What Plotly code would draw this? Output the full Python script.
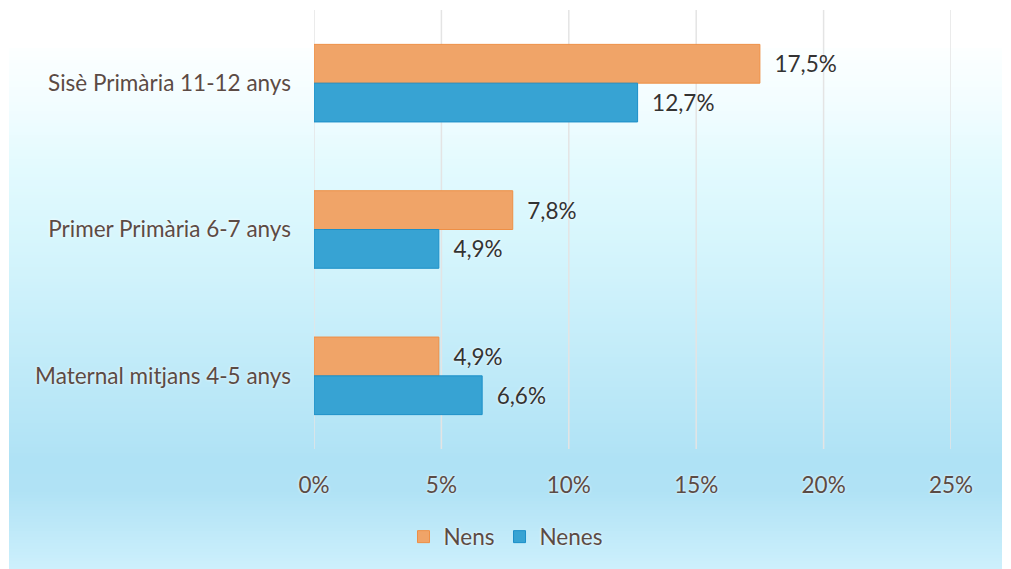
import plotly.graph_objects as go

categories = ["Sisè Primària 11-12 anys", "Primer Primària 6-7 anys", "Maternal mitjans 4-5 anys"]
nens = [0.175, 0.078, 0.049]
nenes = [0.127, 0.049, 0.066]
tick_vals = [0, 0.05, 0.10, 0.15, 0.20, 0.25]

W, H = 1011, 569
ML, MR, MT, MB = 314, 60, 10, 120
PW, PH = W - ML - MR, H - MT - MB

def px_x(p):
    return (p - ML) / PW

def px_y(p):
    return (H - MB - p) / PH

AXIS_COL = "#5B4B45"
LABEL_COL = "#333333"
FONT = "Lato"
FS = 22.5
SHADOW = "0px 0px 3px white"

fig = go.Figure()
fig.add_trace(go.Bar(
    y=categories, x=nens, name="Nens", orientation="h",
    marker=dict(color="#F0A468", line=dict(color="#EE8F45", width=1)),
    texttemplate="\u00a0\u00a0%{x:.1%}", textposition="outside",
    textfont=dict(family=FONT, size=FS, color=LABEL_COL, shadow=SHADOW),
    cliponaxis=False,
))
fig.add_trace(go.Bar(
    y=categories, x=nenes, name="Nenes", orientation="h",
    marker=dict(color="#37A3D3", line=dict(color="#1C8FC8", width=1)),
    texttemplate="\u00a0\u00a0%{x:.1%}", textposition="outside",
    textfont=dict(family=FONT, size=FS, color=LABEL_COL, shadow=SHADOW),
    cliponaxis=False,
))

# background gradient (styling)
stops = [(48, (252, 255, 255)), (100, (243, 253, 255)), (170, (226, 250, 254)),
         (250, (213, 245, 252)), (350, (195, 236, 249)), (460, (175, 226, 245)),
         (490, (176, 226, 245)), (569, (205, 240, 252))]
shapes = []
step = 3
y = 48
while y < 569:
    y2 = min(y + step, 569)
    ym = (y + y2) / 2
    for i in range(len(stops) - 1):
        a, ca = stops[i]
        b, cb = stops[i + 1]
        if a <= ym <= b:
            t = (ym - a) / (b - a)
            c = tuple(round(ca[k] + (cb[k] - ca[k]) * t) for k in range(3))
            break
    shapes.append(dict(type="rect", xref="paper", yref="paper",
                       x0=px_x(9), x1=px_x(1002), y0=px_y(y2 + 0.5), y1=px_y(y),
                       fillcolor="rgb(%d,%d,%d)" % c, line=dict(width=0), layer="below"))
    y = y2

# vertical gridlines at tick values
for tv in tick_vals:
    shapes.append(dict(type="line", xref="x", yref="paper", x0=tv, x1=tv, y0=0, y1=1,
                       line=dict(color="#E4E4E4", width=1.5), layer="below"))

fig.update_layout(
    width=W, height=H,
    margin=dict(l=ML, r=MR, t=MT, b=MB),
    paper_bgcolor="white", plot_bgcolor="rgba(0,0,0,0)",
    separators=",.",
    barmode="group", bargap=0.47, bargroupgap=0,
    shapes=shapes,
    font=dict(family=FONT, size=FS, color=AXIS_COL),
    xaxis=dict(range=[0, 0.25], tickvals=tick_vals, tickformat=".0%",
               showgrid=False, zeroline=False,
               showline=False, ticks="", ticklabelstandoff=20,
               tickfont=dict(family=FONT, size=FS, color=AXIS_COL, shadow=SHADOW)),
    yaxis=dict(autorange="reversed", showgrid=False, showline=False, ticks="",
               ticklabelstandoff=22,
               tickfont=dict(family=FONT, size=FS, color=AXIS_COL, shadow=SHADOW)),
    legend=dict(orientation="h", xref="container", yref="container",
                x=0.5, xanchor="center", y=(H - 537) / H, yanchor="middle",
                font=dict(family=FONT, size=FS, color=AXIS_COL, shadow=SHADOW),
                bgcolor="rgba(0,0,0,0)"),
    showlegend=True,
)

fig.write_html("out.html", config={"displayModeBar": False},
               post_script="document.body.style.margin='0';")
